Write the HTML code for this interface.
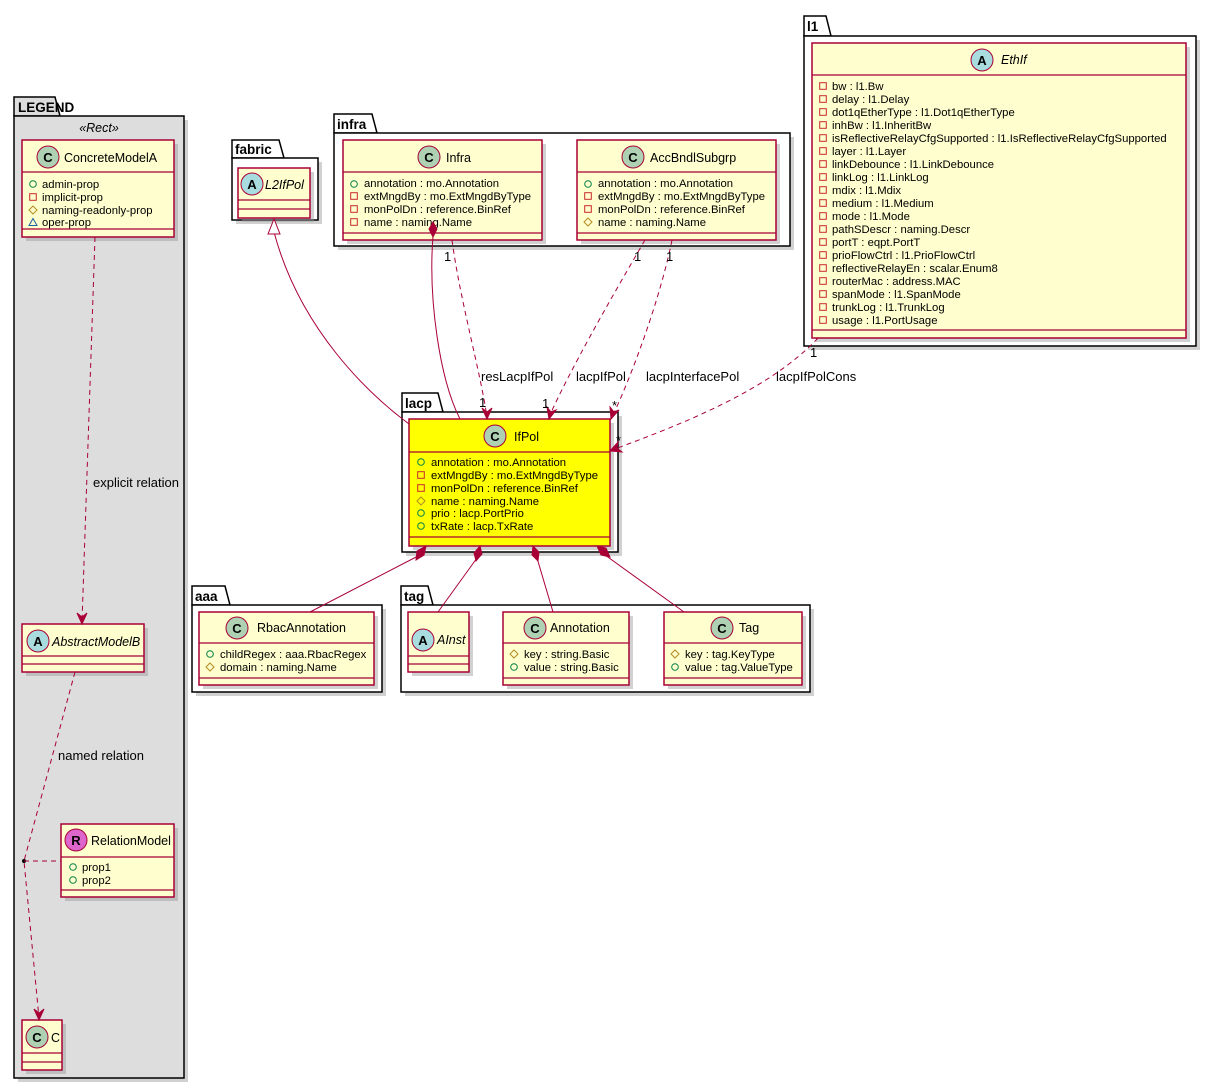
<!DOCTYPE html>
<html><head><meta charset="utf-8"><style>
html,body{margin:0;padding:0;background:#fff}
svg{display:block}
text{font-family:"Liberation Sans","DejaVu Sans",sans-serif;fill:#000}
.a{font-size:11.3px}
.n{font-size:12.5px}
.p{font-size:13.5px;font-weight:bold}
.l{font-size:13px}
.cls{fill:#FEFECE;stroke:#A80036;stroke-width:1.5}
.sh{fill:#999;opacity:.45}
.ln{stroke:#A80036;stroke-width:1.2}
.e{stroke:#A80036;stroke-width:1;fill:none}
.d{stroke-dasharray:5,4}
.pk{fill:#fff;stroke:#000;stroke-width:1.5}
.ci{stroke:#A80036;stroke-width:1}
.ct{font-size:13px;font-weight:bold;text-anchor:middle}
.g{fill:none;stroke:#038048;stroke-width:1}
.r{fill:none;stroke:#C82930;stroke-width:1}
.y{fill:none;stroke:#B38D22;stroke-width:1}
.b{fill:none;stroke:#1963A0;stroke-width:1}
</style></head><body>
<svg width="1215" height="1088" viewBox="0 0 1215 1088" xmlns="http://www.w3.org/2000/svg">
<defs>
<symbol id="pub" viewBox="0 0 8 8" overflow="visible"><circle cx="4" cy="4" r="3.3" class="g"/></symbol>
<symbol id="prv" viewBox="0 0 8 8" overflow="visible"><rect x="0.7" y="0.7" width="6.6" height="6.6" class="r"/></symbol>
<symbol id="prt" viewBox="0 0 8 8" overflow="visible"><polygon points="4,0 8,4 4,8 0,4" class="y"/></symbol>
<symbol id="pkg" viewBox="0 0 8 8" overflow="visible"><polygon points="4,0.5 8,7.5 0,7.5" class="b"/></symbol>
</defs>

<!-- LEGEND package -->
<rect x="18" y="120" width="170" height="962" class="sh"/>
<path d="M14,116 L14,97 L55,97 L60,116 Z" class="pk" style="fill:#DDDDDD"/>
<rect x="14" y="116" width="170" height="962" class="pk" style="fill:#DDDDDD"/>
<text x="18" y="112" class="p">LEGEND</text>
<text x="99" y="132" class="n" text-anchor="middle" font-style="italic">«Rect»</text>

<!-- fabric -->
<rect x="236" y="162" width="86" height="62" class="sh"/>
<path d="M232,158 L232,140 L279,140 L284,158 Z" class="pk"/>
<rect x="232" y="158" width="86" height="62" class="pk"/>
<text x="235" y="154" class="p">fabric</text>

<!-- infra -->
<rect x="338" y="137" width="456" height="113" class="sh"/>
<path d="M334,133 L334,114 L372,114 L377,133 Z" class="pk"/>
<rect x="334" y="133" width="456" height="113" class="pk"/>
<text x="337" y="129" class="p">infra</text>

<!-- l1 -->
<rect x="808" y="40" width="392" height="310" class="sh"/>
<path d="M804,36 L804,16 L826,16 L831,36 Z" class="pk"/>
<rect x="804" y="36" width="392" height="310" class="pk"/>
<text x="807" y="31" class="p">l1</text>

<!-- lacp -->
<rect x="406" y="416" width="216" height="140" class="sh"/>
<path d="M402,412 L402,393 L438,393 L443,412 Z" class="pk"/>
<rect x="402" y="412" width="216" height="140" class="pk"/>
<text x="405" y="408" class="p">lacp</text>

<!-- aaa -->
<rect x="196" y="609" width="190" height="87" class="sh"/>
<path d="M192,605 L192,586 L225,586 L230,605 Z" class="pk"/>
<rect x="192" y="605" width="190" height="87" class="pk"/>
<text x="195" y="601" class="p">aaa</text>

<!-- tag -->
<rect x="405" y="609" width="409" height="87" class="sh"/>
<path d="M401,605 L401,586 L428,586 L433,605 Z" class="pk"/>
<rect x="401" y="605" width="409" height="87" class="pk"/>
<text x="404" y="601" class="p">tag</text>

<!-- ===== Classes ===== -->
<rect x="26" y="144" width="152" height="97" class="sh"/>
<rect x="22" y="140" width="152" height="97" class="cls"/>
<circle cx="48" cy="157" r="11" fill="#ADD1B2" class="ci"/><text x="48" y="162" class="ct">C</text>
<text x="64" y="162" class="n">ConcreteModelA</text>
<line x1="22" y1="172" x2="174" y2="172" class="ln"/>
<use href="#pub" x="29" y="180" width="8" height="8"/><text x="42" y="188" class="a">admin-prop</text>
<use href="#prv" x="29" y="193" width="8" height="8"/><text x="42" y="201" class="a">implicit-prop</text>
<use href="#prt" x="29" y="206" width="8" height="8"/><text x="42" y="214" class="a">naming-readonly-prop</text>
<use href="#pkg" x="29" y="218" width="8" height="8"/><text x="42" y="226" class="a">oper-prop</text>
<line x1="22" y1="229" x2="174" y2="229" class="ln"/>

<rect x="26" y="628" width="122" height="48" class="sh"/>
<rect x="22" y="624" width="122" height="48" class="cls"/>
<circle cx="38" cy="641" r="11" fill="#A9DCDF" class="ci"/><text x="38" y="646" class="ct">A</text>
<text x="52" y="646" class="n" font-style="italic">AbstractModelB</text>
<line x1="22" y1="656" x2="144" y2="656" class="ln"/>
<line x1="22" y1="664" x2="144" y2="664" class="ln"/>

<rect x="65" y="828" width="113" height="73" class="sh"/>
<rect x="61" y="824" width="113" height="73" class="cls"/>
<circle cx="76" cy="840" r="11" fill="#DD66CC" class="ci"/><text x="76" y="845" class="ct">R</text>
<text x="91" y="845" class="n">RelationModel</text>
<line x1="61" y1="857" x2="174" y2="857" class="ln"/>
<use href="#pub" x="69" y="863" width="8" height="8"/><text x="82" y="871" class="a">prop1</text>
<use href="#pub" x="69" y="876" width="8" height="8"/><text x="82" y="884" class="a">prop2</text>
<line x1="61" y1="890" x2="174" y2="890" class="ln"/>

<rect x="26" y="1024" width="40" height="50" class="sh"/>
<rect x="22" y="1020" width="40" height="50" class="cls"/>
<circle cx="37" cy="1037" r="11" fill="#ADD1B2" class="ci"/><text x="37" y="1042" class="ct">C</text>
<text x="51" y="1042" class="n">C</text>
<line x1="22" y1="1053" x2="62" y2="1053" class="ln"/>
<line x1="22" y1="1062" x2="62" y2="1062" class="ln"/>

<rect x="242" y="172" width="72" height="50" class="sh"/>
<rect x="238" y="168" width="72" height="50" class="cls"/>
<circle cx="252" cy="184" r="11" fill="#A9DCDF" class="ci"/><text x="252" y="189" class="ct">A</text>
<text x="265" y="189" class="n" font-style="italic">L2IfPol</text>
<line x1="238" y1="200" x2="310" y2="200" class="ln"/>
<line x1="238" y1="209" x2="310" y2="209" class="ln"/>

<rect x="347" y="144" width="199" height="100" class="sh"/>
<rect x="343" y="140" width="199" height="100" class="cls"/>
<circle cx="429" cy="157" r="11" fill="#ADD1B2" class="ci"/><text x="429" y="162" class="ct">C</text>
<text x="446" y="162" class="n">Infra</text>
<line x1="343" y1="172" x2="542" y2="172" class="ln"/>
<use href="#pub" x="350" y="180" width="8" height="8"/><text x="364" y="187" class="a">annotation : mo.Annotation</text>
<use href="#prv" x="350" y="192" width="8" height="8"/><text x="364" y="200" class="a">extMngdBy : mo.ExtMngdByType</text>
<use href="#prv" x="350" y="205" width="8" height="8"/><text x="364" y="213" class="a">monPolDn : reference.BinRef</text>
<use href="#prv" x="350" y="218" width="8" height="8"/><text x="364" y="226" class="a">name : naming.Name</text>
<line x1="343" y1="233" x2="542" y2="233" class="ln"/>

<rect x="581" y="144" width="199" height="100" class="sh"/>
<rect x="577" y="140" width="199" height="100" class="cls"/>
<circle cx="633" cy="157" r="11" fill="#ADD1B2" class="ci"/><text x="633" y="162" class="ct">C</text>
<text x="650" y="162" class="n">AccBndlSubgrp</text>
<line x1="577" y1="172" x2="776" y2="172" class="ln"/>
<use href="#pub" x="584" y="180" width="8" height="8"/><text x="598" y="187" class="a">annotation : mo.Annotation</text>
<use href="#prv" x="584" y="192" width="8" height="8"/><text x="598" y="200" class="a">extMngdBy : mo.ExtMngdByType</text>
<use href="#prv" x="584" y="205" width="8" height="8"/><text x="598" y="213" class="a">monPolDn : reference.BinRef</text>
<use href="#prt" x="584" y="218" width="8" height="8"/><text x="598" y="226" class="a">name : naming.Name</text>
<line x1="577" y1="233" x2="776" y2="233" class="ln"/>

<rect x="816" y="47" width="374" height="295" class="sh"/>
<rect x="812" y="43" width="374" height="295" class="cls"/>
<circle cx="982" cy="60" r="11" fill="#A9DCDF" class="ci"/><text x="982" y="65" class="ct">A</text>
<text x="1001" y="64" class="n" font-style="italic">EthIf</text>
<line x1="812" y1="75" x2="1186" y2="75" class="ln"/>
<g>
<use href="#prv" x="819" y="82" width="8" height="8"/><text x="832" y="90" class="a">bw : l1.Bw</text>
<use href="#prv" x="819" y="95" width="8" height="8"/><text x="832" y="103" class="a">delay : l1.Delay</text>
<use href="#prv" x="819" y="108" width="8" height="8"/><text x="832" y="116" class="a">dot1qEtherType : l1.Dot1qEtherType</text>
<use href="#prv" x="819" y="121" width="8" height="8"/><text x="832" y="129" class="a">inhBw : l1.InheritBw</text>
<use href="#prv" x="819" y="134" width="8" height="8"/><text x="832" y="142" class="a">isReflectiveRelayCfgSupported : l1.IsReflectiveRelayCfgSupported</text>
<use href="#prv" x="819" y="147" width="8" height="8"/><text x="832" y="155" class="a">layer : l1.Layer</text>
<use href="#prv" x="819" y="160" width="8" height="8"/><text x="832" y="168" class="a">linkDebounce : l1.LinkDebounce</text>
<use href="#prv" x="819" y="173" width="8" height="8"/><text x="832" y="181" class="a">linkLog : l1.LinkLog</text>
<use href="#prv" x="819" y="186" width="8" height="8"/><text x="832" y="194" class="a">mdix : l1.Mdix</text>
<use href="#prv" x="819" y="199" width="8" height="8"/><text x="832" y="207" class="a">medium : l1.Medium</text>
<use href="#prv" x="819" y="212" width="8" height="8"/><text x="832" y="220" class="a">mode : l1.Mode</text>
<use href="#prv" x="819" y="225" width="8" height="8"/><text x="832" y="233" class="a">pathSDescr : naming.Descr</text>
<use href="#prv" x="819" y="238" width="8" height="8"/><text x="832" y="246" class="a">portT : eqpt.PortT</text>
<use href="#prv" x="819" y="251" width="8" height="8"/><text x="832" y="259" class="a">prioFlowCtrl : l1.PrioFlowCtrl</text>
<use href="#prv" x="819" y="264" width="8" height="8"/><text x="832" y="272" class="a">reflectiveRelayEn : scalar.Enum8</text>
<use href="#prv" x="819" y="277" width="8" height="8"/><text x="832" y="285" class="a">routerMac : address.MAC</text>
<use href="#prv" x="819" y="290" width="8" height="8"/><text x="832" y="298" class="a">spanMode : l1.SpanMode</text>
<use href="#prv" x="819" y="303" width="8" height="8"/><text x="832" y="311" class="a">trunkLog : l1.TrunkLog</text>
<use href="#prv" x="819" y="316" width="8" height="8"/><text x="832" y="324" class="a">usage : l1.PortUsage</text>
</g>
<line x1="812" y1="330" x2="1186" y2="330" class="ln"/>

<rect x="413" y="423" width="201" height="127" class="sh"/>
<rect x="409" y="419" width="201" height="127" class="cls" style="fill:#FFFF00"/>
<circle cx="495" cy="436" r="11" fill="#ADD1B2" class="ci"/><text x="495" y="441" class="ct">C</text>
<text x="514" y="441" class="n">IfPol</text>
<line x1="409" y1="452" x2="610" y2="452" class="ln"/>
<use href="#pub" x="417" y="458" width="8" height="8"/><text x="431" y="466" class="a">annotation : mo.Annotation</text>
<use href="#prv" x="417" y="471" width="8" height="8"/><text x="431" y="479" class="a">extMngdBy : mo.ExtMngdByType</text>
<use href="#prv" x="417" y="484" width="8" height="8"/><text x="431" y="492" class="a">monPolDn : reference.BinRef</text>
<use href="#prt" x="417" y="497" width="8" height="8"/><text x="431" y="505" class="a">name : naming.Name</text>
<use href="#pub" x="417" y="509" width="8" height="8"/><text x="431" y="517" class="a">prio : lacp.PortPrio</text>
<use href="#pub" x="417" y="522" width="8" height="8"/><text x="431" y="530" class="a">txRate : lacp.TxRate</text>
<line x1="409" y1="537" x2="610" y2="537" class="ln"/>

<rect x="203" y="616" width="175" height="73" class="sh"/>
<rect x="199" y="612" width="175" height="73" class="cls"/>
<circle cx="237" cy="628" r="11" fill="#ADD1B2" class="ci"/><text x="237" y="633" class="ct">C</text>
<text x="257" y="632" class="n">RbacAnnotation</text>
<line x1="199" y1="643" x2="374" y2="643" class="ln"/>
<use href="#pub" x="206" y="650" width="8" height="8"/><text x="220" y="658" class="a">childRegex : aaa.RbacRegex</text>
<use href="#prt" x="206" y="663" width="8" height="8"/><text x="220" y="671" class="a">domain : naming.Name</text>
<line x1="199" y1="678" x2="374" y2="678" class="ln"/>

<rect x="412" y="616" width="61" height="60" class="sh"/>
<rect x="408" y="612" width="61" height="60" class="cls"/>
<circle cx="423" cy="640" r="11" fill="#A9DCDF" class="ci"/><text x="423" y="645" class="ct">A</text>
<text x="437" y="644" class="n" font-style="italic">AInst</text>
<line x1="408" y1="656" x2="469" y2="656" class="ln"/>
<line x1="408" y1="664" x2="469" y2="664" class="ln"/>

<rect x="507" y="616" width="126" height="73" class="sh"/>
<rect x="503" y="612" width="126" height="73" class="cls"/>
<circle cx="535" cy="628" r="11" fill="#ADD1B2" class="ci"/><text x="535" y="633" class="ct">C</text>
<text x="550" y="632" class="n">Annotation</text>
<line x1="503" y1="643" x2="629" y2="643" class="ln"/>
<use href="#prt" x="510" y="650" width="8" height="8"/><text x="524" y="658" class="a">key : string.Basic</text>
<use href="#pub" x="510" y="663" width="8" height="8"/><text x="524" y="671" class="a">value : string.Basic</text>
<line x1="503" y1="678" x2="629" y2="678" class="ln"/>

<rect x="668" y="616" width="138" height="73" class="sh"/>
<rect x="664" y="612" width="138" height="73" class="cls"/>
<circle cx="722" cy="628" r="11" fill="#ADD1B2" class="ci"/><text x="722" y="633" class="ct">C</text>
<text x="739" y="632" class="n">Tag</text>
<line x1="664" y1="643" x2="802" y2="643" class="ln"/>
<use href="#prt" x="671" y="650" width="8" height="8"/><text x="685" y="658" class="a">key : tag.KeyType</text>
<use href="#pub" x="671" y="663" width="8" height="8"/><text x="685" y="671" class="a">value : tag.ValueType</text>
<line x1="664" y1="678" x2="802" y2="678" class="ln"/>

<!-- ===== Edges ===== -->
<path d="M95,237 L82,622" class="e d"/>
<polygon points="82,624 77,613 82,617 87,613" fill="#A80036" stroke="#A80036"/>
<text x="93" y="487" class="l">explicit relation</text>
<path d="M75,672 L24,861 L39,1018" class="e d"/>
<polygon points="39,1020 34,1009 39,1013 44,1009" fill="#A80036" stroke="#A80036"/>
<circle cx="24" cy="861" r="2" fill="#000"/>
<path d="M24,861 L61,861" class="e d"/>
<text x="58" y="760" class="l">named relation</text>

<path d="M274,232 C300,330 370,395 409,424" class="e"/>
<polygon points="274,219 268,234 280,234" fill="#fff" stroke="#A80036"/>

<path d="M433,236 C428,300 440,380 460,419" class="e"/>
<polygon points="433,222 437,229 433,237 429,229" fill="#A80036" stroke="#A80036"/>
<path d="M452,240 C460,300 480,370 487,417" class="e d"/>
<polygon points="487,419 482,408 487,412 492,408" fill="#A80036" stroke="#A80036"/>
<text x="444" y="261" class="l">1</text>
<text x="479" y="407" class="l">1</text>
<text x="481" y="381" class="l">resLacpIfPol</text>
<path d="M645,240 C610,300 570,370 549,417" class="e d"/>
<polygon points="549,419 547,407 551,412 556,410" fill="#A80036" stroke="#A80036"/>
<text x="634" y="261" class="l">1</text>
<text x="542" y="408" class="l">1</text>
<text x="576" y="381" class="l">lacpIfPol</text>
<path d="M672,240 C660,300 630,380 612,417" class="e d"/>
<polygon points="611,419 610,407 614,412 619,410" fill="#A80036" stroke="#A80036"/>
<text x="666" y="261" class="l">1</text>
<text x="612" y="410" class="l">*</text>
<text x="646" y="381" class="l">lacpInterfacePol</text>
<path d="M818,338 C770,390 680,425 612,450" class="e d"/>
<polygon points="610,451 618,442 617,448 622,452" fill="#A80036" stroke="#A80036"/>
<text x="810" y="357" class="l">1</text>
<text x="616" y="445" class="l">*</text>
<text x="776" y="381" class="l">lacpIfPolCons</text>

<path d="M420,555 L310,612" class="e"/>
<polygon points="426,546 424,555 416,560 417,551" fill="#A80036" stroke="#A80036"/>
<path d="M477,558 L438,612" class="e"/>
<polygon points="480,546 482,554 476,561 474,553" fill="#A80036" stroke="#A80036"/>
<path d="M537,558 L553,612" class="e"/>
<polygon points="533,546 539,552 538,561 532,555" fill="#A80036" stroke="#A80036"/>
<path d="M605,555 L684,612" class="e"/>
<polygon points="597,546 606,548 610,557 601,555" fill="#A80036" stroke="#A80036"/>
</svg>
</body></html>
